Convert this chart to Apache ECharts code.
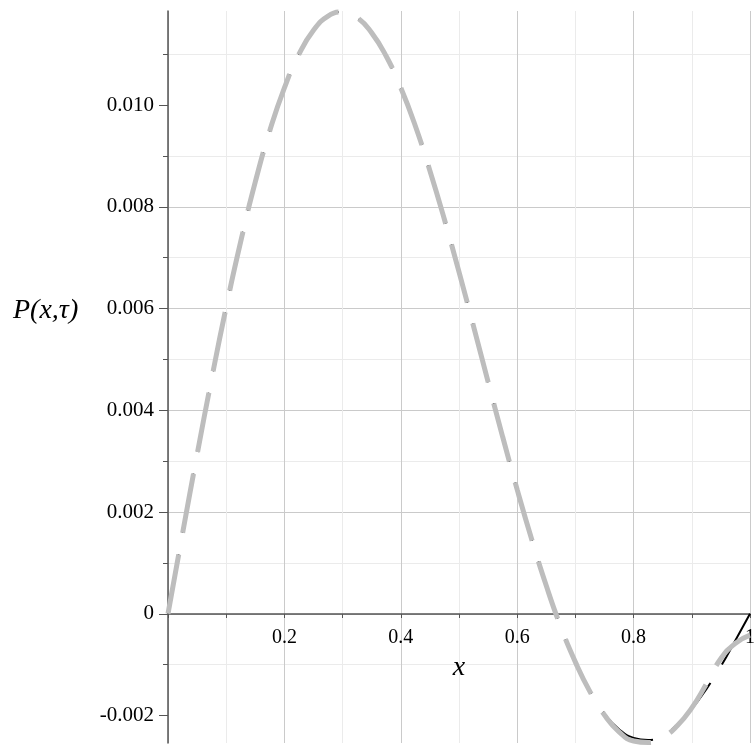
<!DOCTYPE html>
<html>
<head>
<meta charset="utf-8">
<script src="https://cdn.jsdelivr.net/npm/echarts@6/dist/echarts.min.js"></script>
<style>
html, body { margin: 0; padding: 0; background: #fff; }
#chart { width: 755px; height: 747px; }
</style>
</head>
<body>
<div id="chart"></div>
<script>
// values
const xTicks = [0.2, 0.4, 0.6, 0.8, 1];
const yTicks = [-0.002, 0, 0.002, 0.004, 0.006, 0.008, 0.010];

const xs = [0, 0.025, 0.05, 0.075, 0.1, 0.125, 0.15, 0.175, 0.2, 0.225,
    0.25, 0.275, 0.3, 0.325, 0.35, 0.375, 0.4, 0.425, 0.45, 0.475,
    0.5, 0.525, 0.55, 0.575, 0.6, 0.625, 0.65, 0.675, 0.7, 0.725,
    0.75, 0.775, 0.8, 0.825, 0.85, 0.875, 0.9, 0.925, 0.95, 0.975, 1];

// black curve (under the gray one)
const blackY = [0, 0.00158, 0.00313, 0.00462, 0.00603, 0.00732, 0.00849, 0.0095, 0.01034, 0.011,
    0.01147, 0.01175, 0.01183, 0.01172, 0.01142, 0.01096, 0.01034, 0.00959, 0.00871, 0.00775,
    0.00672, 0.00565, 0.00456, 0.00348, 0.00244, 0.00146, 0.00055, -0.00026, -0.00095, -0.00153,
    -0.00197, -0.00227, -0.00244, -0.00248, -0.00239, -0.00218, -0.00187, -0.00148, -0.00103, -0.00052, 0];

// gray dashed curve (on top)
const grayY = [0, 0.00158, 0.00313, 0.00462, 0.00603, 0.00732, 0.00849, 0.0095, 0.01034, 0.011,
    0.01147, 0.01175, 0.01183, 0.01172, 0.01142, 0.01096, 0.01034, 0.00959, 0.00871, 0.00775,
    0.00672, 0.00565, 0.00456, 0.00348, 0.00244, 0.00146, 0.00055, -0.00026, -0.00095, -0.00153,
    -0.00199, -0.00232, -0.0025, -0.00253, -0.00243, -0.0022, -0.00185, -0.00138, -0.00088, -0.00058, -0.00042];

const blackData = xs.map((x, i) => [x, blackY[i]]);
const grayData = xs.map((x, i) => [x, grayY[i]]);

const serif = '"Liberation Serif", "DejaVu Serif", serif';
const dash = [60.5, 21.7];
const fmtY = v => {
    if (Math.abs(v) < 1e-9) return '0';
    return (v < 0 ? '-' : '') + Math.abs(v).toFixed(3);
};

const chart = echarts.init(document.getElementById('chart'));
const option = {
    animation: false,
    backgroundColor: '#fff',
    grid: { left: 168, right: 5, top: 11, bottom: 4, containLabel: false, outerBoundsMode: 'none' },
    xAxis: {
        type: 'value',
        min: 0,
        max: 1,
        interval: 0.2,
        offset: -129,
        name: 'x',
        nameLocation: 'middle',
        nameGap: 40,
        nameTextStyle: { fontFamily: serif, fontStyle: 'italic', fontSize: 28, color: '#000' },
        axisLine: { onZero: false, lineStyle: { color: '#555', width: 1.5 } },
        axisTick: { show: true, length: 4, lineStyle: { color: '#555' } },
        minorTick: { show: true, splitNumber: 2, length: 4, lineStyle: { color: '#555' } },
        axisLabel: {
            margin: 14,
            fontFamily: serif,
            fontSize: 20,
            color: '#000',
            customValues: xTicks,
            formatter: v => String(+v.toFixed(1))
        },
        splitLine: { show: true, lineStyle: { color: '#cacaca', width: 1 } },
        minorSplitLine: { show: true, lineStyle: { color: '#ebebeb', width: 1 } }
    },
    yAxis: {
        type: 'value',
        min: -0.00254,
        max: 0.01185,
        splitNumber: 7,
        axisLine: { onZero: false, lineStyle: { color: '#555', width: 1.5 } },
        axisTick: { show: true, length: 9, customValues: yTicks, lineStyle: { color: '#555' } },
        minorTick: { show: true, splitNumber: 2, length: 5, lineStyle: { color: '#555' } },
        axisLabel: {
            margin: 14,
            fontFamily: serif,
            fontSize: 21,
            color: '#000',
            customValues: yTicks,
            formatter: fmtY
        },
        splitLine: { show: true, showMinLine: false, showMaxLine: false, lineStyle: { color: '#cacaca', width: 1 } },
        minorSplitLine: { show: true, lineStyle: { color: '#ebebeb', width: 1 } }
    },
    graphic: [{
        type: 'text',
        left: 13,
        top: 297,
        style: { text: 'P(x,τ)', font: 'italic 28px ' + serif, fill: '#000' }
    }],
    series: [
        {
            name: 'black',
            type: 'line',
            data: blackData,
            showSymbol: false,
            symbol: 'none',
            smooth: true,
            z: 2,
            lineStyle: { color: '#000', width: 2, type: dash }
        },
        {
            name: 'gray',
            type: 'line',
            data: grayData,
            showSymbol: false,
            symbol: 'none',
            smooth: true,
            z: 3,
            lineStyle: { color: '#bdbdbd', width: 5, type: dash }
        }
    ]
};
chart.setOption(option);
</script>
</body>
</html>
